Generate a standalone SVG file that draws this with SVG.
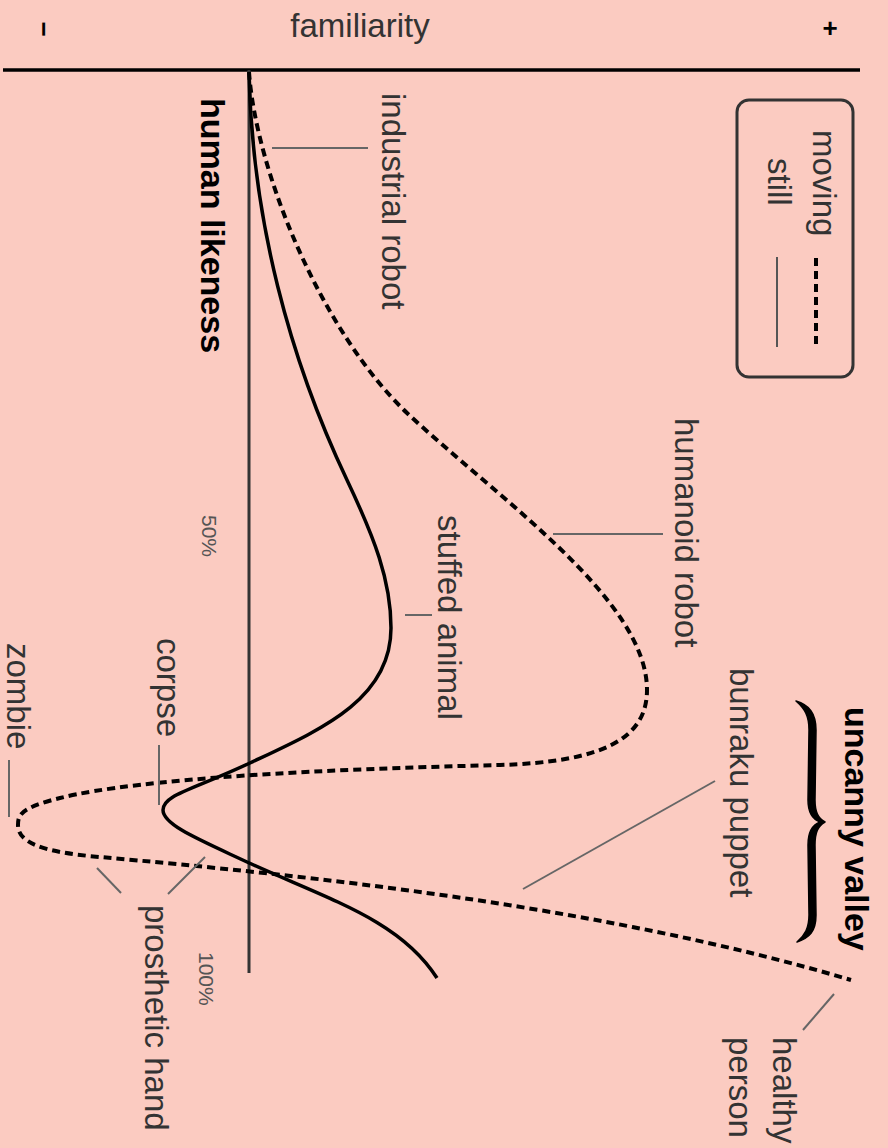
<svg xmlns="http://www.w3.org/2000/svg" width="888" height="1148" viewBox="0 0 888 1148">
<style>
  .lbl { font-family: "Liberation Sans", Arial, sans-serif; font-size: 33px; fill: #333; }
  .bold { font-family: "Liberation Sans", Arial, sans-serif; font-size: 34px; font-weight: bold; fill: #000; }
  .pct { font-family: "Liberation Sans", Arial, sans-serif; font-size: 21px; fill: #555; }
  .sign { font-family: "Liberation Sans", Arial, sans-serif; font-size: 26px; font-weight: bold; fill: #000; }
  .lead { stroke: #666; stroke-width: 2; fill: none; }
  .still { stroke: #000; stroke-width: 3.5; fill: none; }
  .moving { stroke: #000; stroke-width: 4; fill: none; stroke-dasharray: 8 5; }
</style>
<rect width="888" height="1148" fill="#fbcbc1"/>

<g id="axes">
  <line x1="3" y1="70" x2="860" y2="70" stroke="#000" stroke-width="3.5"/>
  <line x1="249" y1="70" x2="249" y2="973" stroke="#333" stroke-width="3"/>
  <text class="lbl" x="360" y="37" text-anchor="middle">familiarity</text>
  <text class="sign" transform="translate(35,29) rotate(90)" text-anchor="middle">−</text>
  <text class="sign" x="830" y="37" text-anchor="middle">+</text>
  <text class="bold" transform="translate(201,98) rotate(90)">human likeness</text>
  <text class="pct" transform="translate(202,515) rotate(90)">50%</text>
  <text class="pct" transform="translate(199,952) rotate(90)">100%</text>
</g>

<g id="legend">
  <rect x="737" y="100" width="116" height="277" rx="12" fill="none" stroke="#333" stroke-width="3"/>
  <text class="lbl" transform="translate(813,130) rotate(90)">moving</text>
  <text class="lbl" transform="translate(768,158) rotate(90)">still</text>
  <line class="moving" x1="816" y1="258" x2="816" y2="348"/>
  <line x1="777" y1="257" x2="777" y2="347" stroke="#555" stroke-width="2"/>
</g>

<g id="connectors">
  <path id="curve-still" class="still" d="M249,72 C252,220 290,360 347,480 C374,537 391,580 391,628 C391,700 320,730 250,763 C190,791 163,795 163,810 C163,825 200,840 247,862 C330,900 400,920 437,978"/>
  <path id="curve-moving" class="moving" d="M249,72 C256,170 320,330 407,413 C500,500 647,600 647,690 C647,740 600,762 500,765 C330,769 140,778 60,798 C20,808 18,815 18,825 C18,842 40,852 100,857 C300,875 600,905 851,980"/>
  <line class="lead" x1="272" y1="148" x2="368" y2="148"/>
  <line class="lead" x1="553" y1="534" x2="663" y2="534"/>
  <line class="lead" x1="405" y1="615" x2="432" y2="615"/>
  <line class="lead" x1="159" y1="745" x2="159" y2="805"/>
  <line class="lead" x1="9" y1="760" x2="9" y2="817"/>
  <line class="lead" x1="97" y1="868" x2="121" y2="893"/>
  <line class="lead" x1="205" y1="857" x2="168" y2="894"/>
  <line class="lead" x1="715" y1="781" x2="523" y2="889"/>
  <line class="lead" x1="834" y1="994" x2="803" y2="1030"/>
</g>

<g id="industrial-robot"><text class="lbl" transform="translate(382,93) rotate(90)">industrial robot</text></g>
<g id="humanoid-robot"><text class="lbl" transform="translate(675,418) rotate(90)">humanoid robot</text></g>
<g id="stuffed-animal"><text class="lbl" transform="translate(438,515) rotate(90)">stuffed animal</text></g>
<g id="corpse"><text class="lbl" transform="translate(157,638) rotate(90)">corpse</text></g>
<g id="zombie"><text class="lbl" transform="translate(7,643) rotate(90)">zombie</text></g>
<g id="prosthetic-hand"><text class="lbl" transform="translate(145,905) rotate(90)">prosthetic hand</text></g>
<g id="bunraku-puppet"><text class="lbl" transform="translate(730,668) rotate(90)">bunraku puppet</text></g>
<g id="healthy-person">
  <text class="lbl" transform="translate(773,1037) rotate(90)">healthy</text>
  <text class="lbl" transform="translate(729,1037) rotate(90)">person</text>
</g>
<g id="uncanny-valley">
  <path d="M796,701 C809,705 816,713 816,730 L815,800 C815,812 818,818 825,822 C818,826 815,832 815,845 L816,915 C816,932 809,938 797,942 C805,935 809,928 809,915 L808,845 C808,832 812,825 820,822 C812,819 808,812 808,800 L809,730 C809,716 805,709 796,701 Z" fill="#000" stroke="#000" stroke-width="1.5" stroke-linejoin="round"/>
  <text class="bold" transform="translate(845,707) rotate(90)">uncanny valley</text>
</g>
</svg>
